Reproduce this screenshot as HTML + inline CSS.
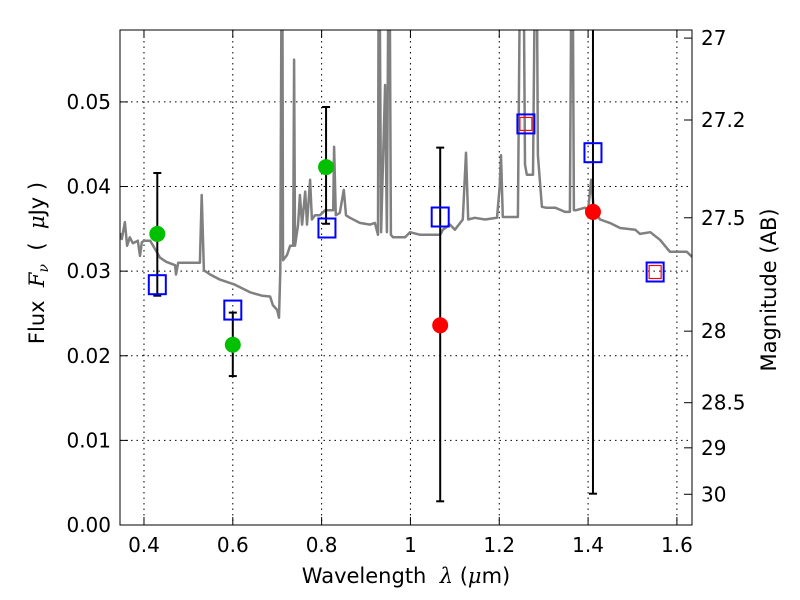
<!DOCTYPE html>
<html><head><meta charset="utf-8"><style>
html,body{margin:0;padding:0;background:#fff;}
svg{display:block;font-family:"DejaVu Sans","Liberation Sans",sans-serif;}
</style></head><body>
<svg id="chart" width="800" height="600" viewBox="0 0 800 600" xmlns="http://www.w3.org/2000/svg">
<defs><clipPath id="clip"><rect x="120" y="30" width="572" height="495"/></clipPath></defs>
<rect x="0" y="0" width="800" height="600" fill="#fff"/>
<g id="grid"></g>
<g id="spec" clip-path="url(#clip)"></g>
<g id="pts" clip-path="url(#clip)"></g>
<rect x="120" y="30" width="572" height="495" fill="none" stroke="#000" stroke-width="1"/>
<g id="axes"></g>
<text x="406" y="583" font-size="21" text-anchor="middle" xml:space="preserve">Wavelength  <tspan font-style="italic" font-family="'DejaVu Serif',serif">λ</tspan> (<tspan font-style="italic" font-family="'DejaVu Serif',serif">μ</tspan>m)</text>
<text transform="translate(44,263) rotate(-90)" font-size="21" text-anchor="middle" xml:space="preserve">Flux  <tspan font-style="italic" font-family="'DejaVu Serif',serif">F</tspan><tspan font-style="italic" font-family="'DejaVu Serif',serif" font-size="14" dy="4">ν</tspan><tspan dy="-4">  (  </tspan><tspan font-style="italic" font-family="'DejaVu Serif',serif">μ</tspan>Jy )</text>
<text transform="translate(776,290) rotate(-90)" font-size="21" text-anchor="middle">Magnitude (AB)</text>
</svg>
<script>
const specWave=[0.346,0.350,0.357,0.362,0.368,0.375,0.386,0.391,0.395,0.400,0.414,0.436,0.450,0.470,0.472,0.477,0.504,0.526,0.530,0.535,0.549,0.571,0.605,0.639,0.666,0.684,0.690,0.700,0.704,0.707,0.711,0.713,0.722,0.729,0.736,0.738,0.740,0.747,0.751,0.756,0.763,0.767,0.774,0.778,0.785,0.796,0.808,0.826,0.828,0.832,0.841,0.850,0.855,0.864,0.886,0.909,0.920,0.927,0.929,0.934,0.943,0.947,0.952,0.956,0.961,0.965,0.988,0.999,1.022,1.067,1.073,1.089,1.100,1.118,1.125,1.130,1.145,1.168,1.195,1.201,1.204,1.208,1.215,1.242,1.249,1.253,1.258,1.262,1.276,1.283,1.287,1.296,1.305,1.326,1.348,1.359,1.364,1.368,1.373,1.393,1.400,1.407,1.413,1.427,1.449,1.472,1.506,1.517,1.540,1.562,1.584,1.607,1.622,1.634];
const specFlux=[0.0345,0.0338,0.0358,0.0330,0.0340,0.0333,0.0336,0.0318,0.0334,0.0336,0.0336,0.0316,0.0311,0.0307,0.0296,0.0310,0.0310,0.0310,0.0390,0.0301,0.0296,0.0290,0.0284,0.0275,0.0271,0.0270,0.0260,0.0254,0.0245,0.0300,0.0800,0.0313,0.0319,0.0330,0.0330,0.0550,0.0330,0.0355,0.0390,0.0355,0.0394,0.0355,0.0408,0.0361,0.0366,0.0366,0.0372,0.0372,0.0447,0.0366,0.0369,0.0396,0.0366,0.0363,0.0357,0.0355,0.0357,0.0343,0.0800,0.0346,0.0520,0.0346,0.0800,0.0343,0.0340,0.0340,0.0340,0.0346,0.0343,0.0343,0.0349,0.0355,0.0349,0.0361,0.0440,0.0361,0.0363,0.0361,0.0363,0.0400,0.0437,0.0364,0.0364,0.0364,0.0800,0.0800,0.0426,0.0414,0.0414,0.0800,0.0437,0.0376,0.0375,0.0375,0.0370,0.0370,0.0800,0.0372,0.0372,0.0375,0.0372,0.0408,0.0372,0.0361,0.0357,0.0351,0.0349,0.0344,0.0346,0.0337,0.0323,0.0323,0.0323,0.0317];
const greenWave=[0.43,0.60,0.81];
const greenFlux=[0.0344,0.0213,0.0423];
const greenErrHi=[0.0416,0.0251,0.0494];
const greenErrLo=[0.0271,0.0176,0.0356];
const redWave=[1.067,1.411];
const redFlux=[0.0236,0.0370];
const redErrHi=[0.0446,0.0650];
const redErrLo=[0.0028,0.0037];
const modelWave=[0.43,0.60,0.812,1.067,1.260,1.411,1.551];
const modelFlux=[0.0284,0.0254,0.0351,0.0364,0.0474,0.0440,0.0299];
const redSqWave=[1.260,1.551];
const redSqFlux=[0.0474,0.0299];
const xTicks=[0.4,0.6,0.8,1.0,1.2,1.4,1.6];
const xTickLabels=["0.4","0.6","0.8","1","1.2","1.4","1.6"];
const yTicks=[0,0.01,0.02,0.03,0.04,0.05];
const yTickLabels=["0.00","0.01","0.02","0.03","0.04","0.05"];
const magTicks=[27,27.2,27.5,28,28.5,29,30];
const magTickLabels=["27","27.2","27.5","28","28.5","29","30"];

const L=120,R=692,T=30,B=525,X0=0.346,X1=1.634,Y0=0,Y1=0.0585;
const sx=v=>L+(v-X0)/(X1-X0)*(R-L);
const sy=v=>B-(v-Y0)/(Y1-Y0)*(B-T);
const magToFlux=m=>Math.pow(10,(23.9-m)/2.5);
const NS="http://www.w3.org/2000/svg";
function mk(tag,attrs,parent){const e=document.createElementNS(NS,tag);for(const k in attrs)e.setAttribute(k,attrs[k]);parent.appendChild(e);return e;}
const grid=document.getElementById('grid'),axes=document.getElementById('axes'),spec=document.getElementById('spec'),pts=document.getElementById('pts');

xTicks.forEach((v,i)=>{const x=sx(v);
  const g=mk('line',{x1:x,x2:x,y1:T,y2:B,stroke:'#000','stroke-dasharray':'1.5,4','stroke-width':1},grid);
  
  mk('line',{x1:x,x2:x,y1:B,y2:B-8,stroke:'#000'},axes);
  mk('line',{x1:x,x2:x,y1:T,y2:T+8,stroke:'#000'},axes);
  const t=mk('text',{x:x,y:B+27,'font-size':20,'text-anchor':'middle'},axes);t.textContent=xTickLabels[i];
  
});
yTicks.forEach((v,i)=>{const y=sy(v);
  const g=mk('line',{x1:L,x2:R,y1:y,y2:y,stroke:'#000','stroke-dasharray':'1.5,4','stroke-width':1},grid);
  
  mk('line',{x1:L,x2:L+8,y1:y,y2:y,stroke:'#000'},axes);
  const t=mk('text',{x:L-9,y:y+7,'font-size':20,'text-anchor':'end'},axes);t.textContent=yTickLabels[i];
  
});
magTicks.forEach((m,i)=>{const y=sy(magToFlux(m));
  mk('line',{x1:R,x2:R-8,y1:y,y2:y,stroke:'#000'},axes);
  const t=mk('text',{x:R+9,y:y+7,'font-size':20,'text-anchor':'start'},axes);t.textContent=magTickLabels[i];
  
});

const d=specWave.map((w,i)=>(i?'L':'M')+sx(w).toFixed(1)+','+sy(specFlux[i]).toFixed(1)).join('');
const p=mk('path',{d:d,fill:'none',stroke:'#808080','stroke-width':2.5,'stroke-linejoin':'round'},spec);


function errbar(w,lo,hi){const x=sx(w);
  const e=mk('g',{},pts);
  
  mk('line',{x1:x,x2:x,y1:sy(lo),y2:sy(hi),stroke:'#000','stroke-width':2},e);
  mk('line',{x1:x-4,x2:x+4,y1:sy(lo),y2:sy(lo),stroke:'#000','stroke-width':2},e);
  mk('line',{x1:x-4,x2:x+4,y1:sy(hi),y2:sy(hi),stroke:'#000','stroke-width':2},e);
}
greenWave.forEach((w,i)=>errbar(w,greenErrLo[i],greenErrHi[i]));
redWave.forEach((w,i)=>errbar(w,redErrLo[i],redErrHi[i]));
modelWave.forEach((w,i)=>{
  const r=mk('rect',{x:sx(w)-8.5,y:sy(modelFlux[i])-9.5,width:17,height:19,fill:'none',stroke:'#0000ff','stroke-width':2},pts);
  
});
redSqWave.forEach((w,i)=>{
  const r=mk('rect',{x:sx(w)-6,y:sy(redSqFlux[i])-6.5,width:12,height:13,fill:'none',stroke:'#ff0000','stroke-width':1.2},pts);
  
});
greenWave.forEach((w,i)=>{
  const c=mk('circle',{cx:sx(w),cy:sy(greenFlux[i]),r:8,fill:'#00c000'},pts);
  
});
redWave.forEach((w,i)=>{
  const c=mk('circle',{cx:sx(w),cy:sy(redFlux[i]),r:8,fill:'#ff0000'},pts);
  
});
</script>
</body></html>
